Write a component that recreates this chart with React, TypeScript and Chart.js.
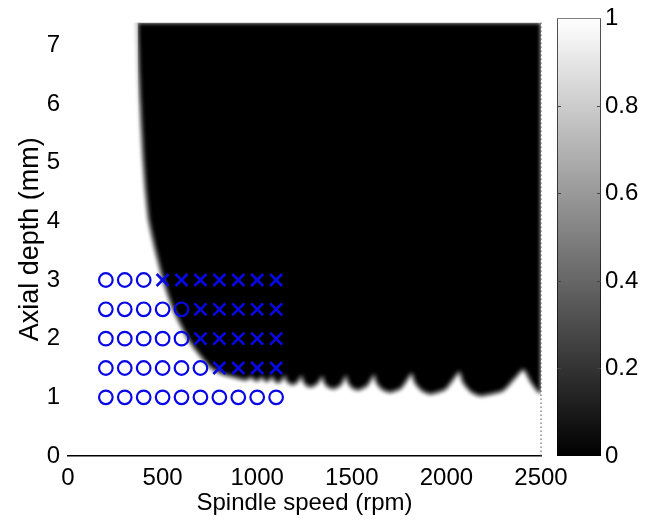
import React, { useEffect, useRef } from 'react';
import { Chart, registerables } from 'chart.js';

Chart.register(...registerables);

const FONT_FAMILY = '"Liberation Sans", Arial, Helvetica, sans-serif';

// Stability boundary (spindle speed in rpm, axial depth in mm) - black region lies above it
const boundarySpeed = [
  368, 372, 377, 384, 392, 401, 413, 430, 465, 505,
  558, 635, 690, 750, 800, 850, 900, 940, 970, 985,
  1000, 1025, 1040, 1055, 1078, 1095, 1115, 1147, 1155, 1170,
  1190, 1212, 1235, 1245, 1262, 1285, 1315, 1345, 1356, 1375,
  1405, 1440, 1470, 1482, 1505, 1535, 1580, 1618, 1632, 1660,
  1700, 1760, 1816, 1835, 1870, 1915, 1995, 2068, 2090, 2130,
  2180, 2300, 2407, 2450, 2485, 2500,
];
const boundaryDepth = [
  7.5, 7.0, 6.5, 6.0, 5.5, 5.0, 4.5, 4.0, 3.5, 3.0,
  2.5, 2.0, 1.75, 1.52, 1.42, 1.37, 1.33, 1.30, 1.35, 1.30,
  1.28, 1.35, 1.29, 1.27, 1.36, 1.28, 1.25, 1.37, 1.29, 1.24,
  1.22, 1.26, 1.37, 1.27, 1.20, 1.18, 1.23, 1.36, 1.25, 1.18,
  1.15, 1.21, 1.37, 1.25, 1.16, 1.13, 1.20, 1.39, 1.25, 1.14,
  1.09, 1.16, 1.41, 1.25, 1.12, 1.06, 1.14, 1.44, 1.25, 1.10,
  1.03, 1.12, 1.48, 1.25, 1.10, 1.07,
];

// Test cuts: 1 = stable (circle), 0 = chatter (cross)
const markerSpeeds = [200, 300, 400, 500, 600, 700, 800, 900, 1000, 1100];
const markerDepths = [1, 1.5, 2, 2.5, 3];
const markerStable = [
  [1, 1, 1, 1, 1, 1, 1, 1, 1, 1],
  [1, 1, 1, 1, 1, 1, 0, 0, 0, 0],
  [1, 1, 1, 1, 1, 0, 0, 0, 0, 0],
  [1, 1, 1, 1, 1, 0, 0, 0, 0, 0],
  [1, 1, 1, 0, 0, 0, 0, 0, 0, 0],
];

const xTickValues = [0, 500, 1000, 1500, 2000, 2500];
const yTickValues = [0, 1, 2, 3, 4, 5, 6, 7];
const colorbarTicks = [0, 0.2, 0.4, 0.6, 0.8, 1];

const X_MIN = 0;
const X_MAX = 2500;
const Y_MIN = 0;
const Y_MAX = 7.39;

const font = { family: FONT_FAMILY, size: 24 };
const yTitleFont = { family: FONT_FAMILY, size: 27 };
const plain = (v: any) => String(v);

export default function App() {
  const mainRef = useRef<HTMLCanvasElement>(null);
  const cbRef = useRef<HTMLCanvasElement>(null);

  useEffect(() => {
    const boundary = boundarySpeed.map((x, i) => ({ x, y: boundaryDepth[i] }));
    const stablePts: { x: number; y: number }[] = [];
    const chatterPts: { x: number; y: number }[] = [];
    markerDepths.forEach((d, r) => {
      markerSpeeds.forEach((s, c) => {
        if (markerStable[r][c]) stablePts.push({ x: s, y: d });
        else chatterPts.push({ x: s, y: d });
      });
    });

    const blurPlugin = {
      id: 'edgeBlur',
      beforeDatasetsDraw(chart: any) {
        chart.ctx.save();
        chart.ctx.filter = 'blur(2.3px)';
      },
      afterDatasetDraw(chart: any, args: any) {
        if (chart.data.datasets[args.index].label === 'boundary') {
          chart.ctx.filter = 'none';
        }
      },
      afterDatasetsDraw(chart: any) {
        chart.ctx.restore();
      },
    };

    const main = new Chart(mainRef.current!, {
      type: 'scatter',
      data: {
        datasets: [
          {
            label: 'stable',
            data: stablePts,
            pointStyle: 'circle',
            pointRadius: 6.8,
            pointBorderWidth: 2.2,
            pointBorderColor: '#0808e6',
            pointBackgroundColor: 'rgba(0,0,0,0)',
            order: 0,
          },
          {
            label: 'chatter',
            data: chatterPts,
            pointStyle: 'crossRot',
            pointRadius: 8.5,
            pointBorderWidth: 2.6,
            pointBorderColor: '#0808e6',
            pointBackgroundColor: 'rgba(0,0,0,0)',
            order: 1,
          },
          {
            label: 'edge',
            data: [
              { x: X_MAX, y: Y_MIN },
              { x: X_MAX, y: Y_MAX },
            ],
            showLine: true,
            borderColor: '#555',
            borderWidth: 1,
            borderDash: [1.5, 2.5],
            pointRadius: 0,
            clip: false,
            order: 2,
          },
          {
            label: 'boundary',
            data: boundary,
            showLine: true,
            fill: 'end',
            backgroundColor: '#000',
            borderColor: '#000',
            borderWidth: 1,
            pointRadius: 0,
            tension: 0.15,
            order: 3,
          },
        ],
      },
      options: {
        animation: false,
        responsive: false,
        devicePixelRatio: 1,
        events: [],
        layout: { padding: { top: 17, right: 118, left: 0, bottom: 0 } },
        plugins: {
          legend: { display: false },
          tooltip: { enabled: false },
        },
        scales: {
          x: {
            type: 'linear',
            min: X_MIN,
            max: X_MAX,
            afterBuildTicks: (s: any) => {
              s.ticks = xTickValues.map((v) => ({ value: v }));
            },
            afterFit: (s: any) => {
              s.height = 64;
            },
            grid: { display: false, drawTicks: false },
            border: { display: true, color: '#000', width: 1.5 },
            ticks: { font, color: '#000', padding: 8, maxRotation: 0, autoSkip: false, callback: plain },
            title: {
              display: true,
              text: 'Spindle speed (rpm)',
              font,
              color: '#000',
              padding: { top: 0, bottom: 2 },
            },
          },
          y: {
            type: 'linear',
            min: Y_MIN,
            max: Y_MAX,
            afterBuildTicks: (s: any) => {
              s.ticks = yTickValues.map((v) => ({ value: v }));
            },
            afterFit: (s: any) => {
              s.width = 68;
            },
            grid: { display: false, drawTicks: false },
            border: { display: false },
            ticks: { font, color: '#000', padding: 8, callback: plain },
            title: {
              display: true,
              text: 'Axial depth (mm)',
              font: yTitleFont,
              color: '#000',
              padding: { top: 14, bottom: 0 },
            },
          },
        },
      },
      plugins: [blurPlugin],
    } as any);

    const cbTicksPlugin = {
      id: 'cbTicks',
      afterDatasetsDraw(chart: any) {
        const { ctx, chartArea } = chart;
        const ys = chart.scales.y;
        ctx.save();
        ctx.strokeStyle = '#444';
        ctx.lineWidth = 1;
        colorbarTicks.forEach((v) => {
          if (v === 0 || v === 1) return;
          const py = Math.round(ys.getPixelForValue(v)) + 0.5;
          ctx.beginPath();
          ctx.moveTo(chartArea.left, py);
          ctx.lineTo(chartArea.left + 4, py);
          ctx.moveTo(chartArea.right - 4, py);
          ctx.lineTo(chartArea.right, py);
          ctx.stroke();
        });
        ctx.restore();
      },
    };

    const cb = new Chart(cbRef.current!, {
      type: 'bar',
      data: {
        labels: ['colorbar'],
        datasets: [
          {
            data: [1],
            barPercentage: 1,
            categoryPercentage: 1,
            borderWidth: 1,
            borderColor: '#000',
            borderSkipped: false,
            backgroundColor: (c: any) => {
              const area = c.chart.chartArea;
              if (!area) return '#888';
              const g = c.chart.ctx.createLinearGradient(0, area.bottom, 0, area.top);
              g.addColorStop(0, '#000');
              g.addColorStop(1, '#fff');
              return g;
            },
          },
        ],
      },
      options: {
        animation: false,
        responsive: false,
        devicePixelRatio: 1,
        events: [],
        layout: { padding: { top: 17, left: 9, right: 0, bottom: 64 } },
        plugins: { legend: { display: false }, tooltip: { enabled: false } },
        scales: {
          x: { display: false },
          y: {
            position: 'right',
            min: 0,
            max: 1,
            afterBuildTicks: (s: any) => {
              s.ticks = colorbarTicks.map((v) => ({ value: v }));
            },
            afterFit: (s: any) => {
              s.width = 58;
            },
            grid: { display: false, drawTicks: false },
            border: { display: false },
            ticks: { font, color: '#000', padding: 4, callback: plain },
          },
        },
      },
      plugins: [cbTicksPlugin],
    } as any);

    return () => {
      main.destroy();
      cb.destroy();
    };
  }, []);

  return (
    <div style={{ position: 'absolute', left: 0, top: 0, width: 659, height: 520, background: '#fff' }}>
      <canvas ref={mainRef} width={659} height={520} style={{ position: 'absolute', left: 0, top: 0 }} />
      <canvas ref={cbRef} width={111} height={520} style={{ position: 'absolute', left: 548, top: 0 }} />
    </div>
  );
}
